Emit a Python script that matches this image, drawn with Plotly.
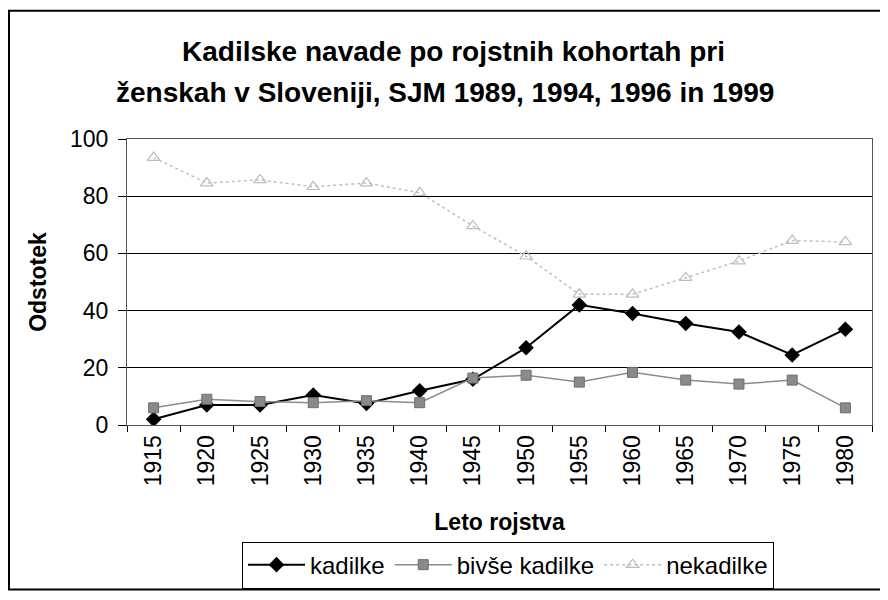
import plotly.graph_objects as go

years = ["1915", "1920", "1925", "1930", "1935", "1940", "1945", "1950",
         "1955", "1960", "1965", "1970", "1975", "1980"]
kadilke = [2, 7, 7, 10.5, 7.5, 12, 16, 27, 42, 39, 35.5, 32.5, 24.5, 33.5]
bivse = [6, 9, 8.2, 7.8, 8.5, 7.8, 16.4, 17.4, 15, 18.4, 15.7, 14.3, 15.7, 6]
nekadilke = [93.5, 84.6, 85.7, 83.3, 84.6, 81.2, 69.6, 59, 45.7, 45.7, 51.5, 57.3, 64.5, 64]
y_ticks = [0, 20, 40, 60, 80, 100]
title_lines = ["Kadilske navade po rojstnih kohortah pri",
               "ženskah v Sloveniji, SJM 1989, 1994, 1996 in 1999"]

FONT = "Liberation Sans, Arial, sans-serif"
OFF = 8  # page body margin
W, H = 888 - OFF, 600 - OFF
# plot area in page pixels
L, R, T, B = 127, 872, 139, 431
PW, PH = R - L, B - T


def px_x(x):
    return (x - L) / PW


def px_y(y):
    return (B - y) / PH


fig = go.Figure()
fig.add_trace(go.Scatter(
    x=years, y=kadilke, name="kadilke", mode="lines+markers",
    line=dict(color="black", width=2),
    marker=dict(symbol="diamond", size=12, color="black"),
))
fig.add_trace(go.Scatter(
    x=years, y=bivse, name="bivše kadilke", mode="lines+markers",
    line=dict(color="#8c8c8c", width=1.5),
    marker=dict(symbol="square", size=10, color="#8a8a8a",
                line=dict(color="#6e6e6e", width=1)),
))
fig.add_trace(go.Scatter(
    x=years, y=nekadilke, name="nekadilke", mode="lines+markers",
    line=dict(color="#c0c0c0", width=1.5, dash="dot"),
    marker=dict(symbol="triangle-up-open", size=11, color="#bdbdbd",
                line=dict(width=1.2)),
))

annotations = [
    dict(text="<b>%s</b>" % title_lines[0], xref="paper", yref="paper",
         x=px_x(453), y=px_y(50), xanchor="center", yanchor="middle",
         showarrow=False, font=dict(size=28, family=FONT)),
    dict(text="<b>%s</b>" % title_lines[1], xref="paper", yref="paper",
         x=px_x(445), y=px_y(92), xanchor="center", yanchor="middle",
         showarrow=False, font=dict(size=28, family=FONT)),
]

fig.update_layout(
    width=W, height=H,
    margin=dict(l=L - OFF, r=888 - R, t=T - OFF, b=600 - B),
    paper_bgcolor="white", plot_bgcolor="white",
    font=dict(family=FONT, color="black", size=22),
    annotations=annotations,
    xaxis=dict(
        type="category", categoryorder="array", categoryarray=years,
        range=[-0.5, 13.5], automargin=False,
        tickangle=-90, tickson="boundaries", ticks="outside", ticklen=6,
        tickcolor="black", tickfont=dict(size=23),
        showline=True, linecolor="#555555", linewidth=1, mirror=True,
        showgrid=False, zeroline=False,
        title=dict(text="<b>Leto rojstva</b>", font=dict(size=23), standoff=28),
    ),
    yaxis=dict(
        range=[0, 100], tickvals=y_ticks, ticks="outside", ticklen=8,
        automargin=False, ticklabelstandoff=5,
        tickcolor="black", tickfont=dict(size=23),
        showline=True, linecolor="#555555", linewidth=1, mirror=True,
        showgrid=True, gridcolor="black", gridwidth=1, zeroline=False,
        title=dict(text="<b>Odstotek</b>", font=dict(size=23), standoff=16),
    ),
    legend=dict(
        orientation="h", x=px_x(508), xanchor="center", y=px_y(550), yanchor="top",
        bordercolor="black", borderwidth=1, bgcolor="white",
        font=dict(size=24), itemwidth=57,
    ),
    shapes=[dict(
        type="rect", xref="paper", yref="paper",
        x0=px_x(9), x1=px_x(887), y0=px_y(599), y1=px_y(8),
        line=dict(color="black", width=2), layer="below",
    )],
)

fig.write_html("out.html")
